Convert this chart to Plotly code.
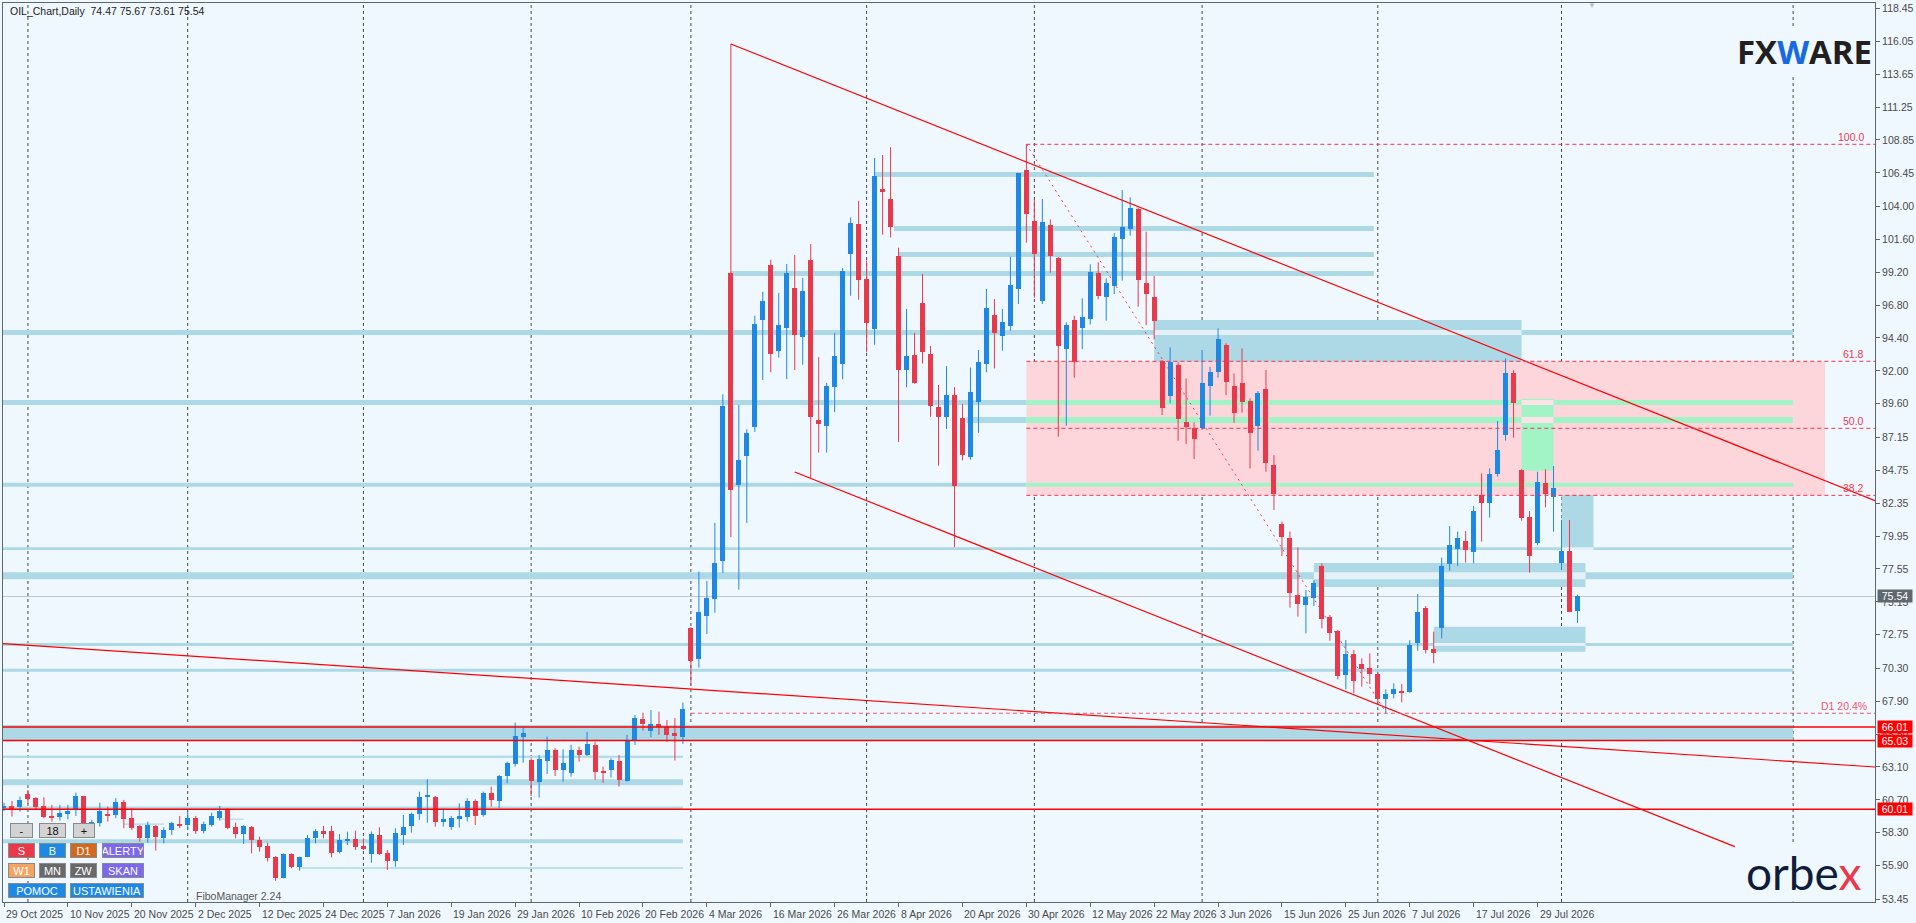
import plotly.graph_objects as go

# Dane świec (kolejne sesje dzienne, od 29 Oct 2025)
open_prices = [
    60.10, 60.26, 60.16, 61.13, 60.87, 60.26, 59.53, 59.48, 59.68, 59.97,
    60.99, 58.85, 58.99, 59.68, 59.60, 60.55, 59.36, 58.80, 57.90, 58.80,
    57.90, 58.51, 58.94, 58.87, 59.41, 58.46, 58.87, 59.41, 60.02, 58.70,
    58.21, 58.75, 57.78, 57.34, 56.56, 55.03, 56.76, 55.83, 56.56, 57.90,
    58.43, 58.46, 56.92, 57.73, 57.85, 57.33, 56.76, 58.14, 56.81, 56.27,
    58.14, 58.80, 59.68, 60.94, 60.92, 59.12, 58.75, 59.31, 59.48, 60.62,
    59.60, 61.18, 60.62, 62.45, 63.32, 65.32, 63.62, 62.04, 63.57, 64.34,
    62.89, 62.69, 64.34, 63.98, 64.71, 62.81, 62.89, 63.54, 62.08, 65.00,
    66.61, 65.76, 66.24, 66.00, 65.61, 65.32, 73.24, 70.98, 74.13, 75.39,
    78.12, 99.15, 83.70, 85.81, 87.89, 95.71, 99.72, 93.47, 95.16, 98.05,
    94.46, 100.09, 88.41, 88.00, 90.81, 92.53, 100.55, 102.72, 98.70, 95.08,
    105.27, 104.54, 100.37, 92.09, 93.16, 96.96, 93.23, 89.35, 88.65, 90.24,
    88.57, 85.73, 89.72, 92.50, 96.07, 94.56, 95.29, 97.99, 106.65, 102.93,
    97.12, 102.64, 100.26, 93.59, 95.71, 95.15, 95.76, 99.11, 97.41, 98.21,
    101.64, 102.35, 103.83, 98.38, 97.36, 92.74, 90.19, 92.43, 88.24, 87.80,
    87.80, 90.92, 91.89, 93.88, 90.89, 91.09, 89.80, 87.98, 90.68, 85.13,
    80.83, 79.78, 75.62, 74.89, 75.40, 77.76, 74.02, 73.00, 69.83, 71.34,
    70.61, 70.30, 69.88, 68.03, 68.40, 68.64, 68.59, 72.12, 74.72, 71.71,
    73.26, 77.91, 79.00, 79.59, 78.81, 82.94, 82.33, 84.47, 87.32, 91.87,
    84.77, 81.36, 79.46, 83.79, 82.82, 77.96, 78.86, 74.47,
]
high_prices = [
    60.50, 60.62, 60.94, 61.42, 60.90, 60.89, 60.33, 60.33, 60.33, 61.23,
    61.00, 59.25, 60.50, 60.21, 60.82, 60.70, 60.09, 58.87, 59.11, 58.87,
    58.70, 59.11, 59.53, 59.84, 59.53, 59.11, 59.77, 60.26, 60.09, 59.04,
    58.87, 58.80, 58.02, 57.58, 56.60, 56.80, 56.80, 56.56, 58.14, 58.56,
    58.80, 58.80, 58.21, 58.38, 58.46, 57.89, 58.39, 58.70, 57.05, 58.63,
    59.60, 59.77, 61.30, 62.20, 60.99, 60.02, 59.53, 60.45, 60.82, 60.74,
    61.30, 61.67, 62.52, 63.49, 66.34, 66.00, 63.74, 63.98, 65.32, 64.47,
    64.39, 64.71, 64.59, 65.66, 64.95, 63.13, 63.74, 63.98, 65.44, 66.90,
    67.07, 67.26, 67.14, 66.53, 66.68, 67.80, 73.30, 77.35, 76.67, 80.91,
    90.29, 115.85, 89.51, 87.74, 96.02, 97.77, 100.11, 97.69, 99.80, 100.45,
    98.78, 101.26, 93.00, 91.12, 94.77, 99.51, 103.19, 104.41, 100.06, 107.54,
    107.75, 108.32, 100.99, 96.52, 94.77, 99.07, 93.81, 90.97, 92.35, 90.81,
    89.59, 92.24, 93.52, 97.98, 97.24, 96.51, 100.33, 106.43, 108.55, 104.46,
    104.54, 103.05, 100.33, 95.54, 96.02, 97.29, 99.77, 99.92, 98.75, 102.06,
    105.19, 104.66, 103.90, 102.15, 98.92, 92.79, 93.71, 92.67, 91.45, 88.24,
    93.52, 92.30, 95.10, 94.01, 91.82, 93.64, 89.99, 90.53, 92.06, 85.86,
    81.00, 80.27, 79.12, 76.01, 76.74, 77.96, 74.19, 73.09, 72.36, 71.63,
    71.03, 71.39, 69.93, 68.76, 69.20, 69.15, 72.36, 75.72, 74.84, 72.97,
    78.37, 80.68, 80.27, 80.32, 82.14, 84.52, 84.89, 88.34, 92.91, 92.06,
    84.82, 81.77, 84.64, 84.82, 85.06, 81.12, 81.12, 75.67,
]
low_prices = [
    59.90, 59.48, 59.84, 60.40, 59.97, 59.36, 59.11, 59.19, 59.28, 59.53,
    58.80, 58.60, 58.75, 59.11, 59.36, 58.63, 58.51, 57.65, 57.58, 57.00,
    57.53, 58.14, 58.63, 58.51, 58.21, 58.26, 58.75, 59.19, 58.56, 57.90,
    57.48, 56.80, 56.92, 56.20, 54.79, 54.98, 55.71, 55.54, 56.56, 57.53,
    57.90, 56.51, 56.80, 57.41, 57.05, 57.04, 56.12, 56.68, 55.59, 55.83,
    57.41, 58.31, 59.24, 59.04, 58.75, 58.75, 58.51, 58.68, 59.12, 58.87,
    59.48, 60.21, 60.09, 61.91, 63.13, 63.42, 60.99, 60.87, 62.59, 62.45,
    62.03, 62.40, 63.49, 63.91, 62.16, 61.96, 62.33, 61.67, 62.03, 64.71,
    65.76, 65.27, 65.44, 64.95, 63.57, 64.78, 69.08, 70.35, 72.80, 74.36,
    77.26, 79.87, 76.04, 80.91, 87.55, 91.33, 91.90, 92.97, 91.41, 92.06,
    92.45, 84.17, 86.04, 86.04, 88.99, 91.38, 97.48, 97.19, 93.36, 93.91,
    101.94, 101.73, 86.82, 90.81, 91.07, 92.53, 88.65, 85.08, 87.76, 79.14,
    85.47, 85.52, 87.48, 91.90, 92.18, 93.47, 94.93, 96.88, 101.35, 97.34,
    96.88, 99.16, 87.20, 88.00, 91.50, 93.59, 95.39, 97.22, 95.66, 97.61,
    98.58, 101.86, 96.68, 95.34, 94.30, 88.78, 89.63, 86.90, 86.66, 85.57,
    87.68, 88.73, 91.50, 90.24, 88.22, 88.95, 84.89, 86.18, 84.64, 81.85,
    78.49, 74.72, 74.07, 72.85, 74.84, 73.21, 72.31, 69.49, 68.76, 68.47,
    68.96, 69.15, 67.74, 67.01, 68.11, 67.82, 68.52, 71.58, 71.39, 70.66,
    72.49, 77.42, 77.76, 78.01, 77.96, 79.54, 81.29, 84.28, 86.91, 87.13,
    81.07, 77.28, 79.29, 82.04, 80.27, 77.47, 74.43, 73.61,
]
close_prices = [
    60.25, 60.06, 60.70, 60.79, 60.21, 59.48, 59.41, 59.77, 59.92, 60.99,
    59.00, 59.10, 59.92, 59.58, 60.57, 59.33, 58.68, 57.90, 58.87, 58.02,
    58.51, 58.99, 58.82, 59.36, 58.46, 58.94, 59.53, 59.92, 58.68, 58.21,
    58.80, 57.78, 57.29, 56.49, 55.03, 56.76, 55.83, 56.51, 57.90, 58.46,
    58.21, 56.85, 57.78, 57.88, 57.29, 57.14, 58.22, 56.76, 56.27, 58.31,
    58.70, 59.68, 60.89, 61.04, 59.12, 59.31, 59.38, 59.53, 60.62, 59.55,
    61.18, 60.70, 62.45, 63.37, 65.37, 65.56, 62.11, 63.69, 64.34, 62.89,
    63.37, 64.34, 63.98, 64.78, 62.76, 62.69, 63.62, 62.16, 65.00, 66.70,
    66.24, 66.24, 66.00, 65.44, 65.37, 67.34, 70.86, 74.43, 75.45, 78.00,
    89.43, 83.31, 85.47, 87.48, 95.42, 97.09, 93.26, 95.34, 99.15, 94.64,
    97.82, 88.65, 88.15, 90.89, 93.08, 99.28, 102.80, 98.60, 95.53, 106.21,
    105.06, 102.51, 92.09, 93.08, 91.12, 93.39, 89.46, 88.65, 90.24, 83.57,
    85.89, 90.45, 92.68, 96.59, 94.78, 95.54, 98.26, 106.43, 103.44, 100.55,
    102.86, 100.38, 93.84, 95.34, 92.62, 95.90, 99.19, 97.48, 98.38, 101.76,
    102.49, 103.88, 98.63, 97.61, 95.64, 89.31, 92.67, 88.51, 87.93, 87.05,
    91.09, 91.89, 94.30, 91.21, 88.90, 89.75, 87.44, 90.41, 85.30, 82.99,
    79.85, 75.82, 74.97, 75.48, 76.50, 73.92, 72.90, 69.76, 71.34, 69.40,
    70.27, 69.88, 68.03, 68.40, 68.76, 68.52, 72.00, 74.41, 71.63, 71.44,
    77.76, 79.29, 79.78, 78.93, 81.77, 82.38, 84.47, 86.22, 91.87, 89.68,
    81.29, 78.52, 83.89, 82.99, 83.43, 78.88, 74.43, 75.54,
]

date_labels = [
    "29 Oct 2025", "10 Nov 2025", "20 Nov 2025", "2 Dec 2025", "12 Dec 2025",
    "24 Dec 2025", "7 Jan 2026", "19 Jan 2026", "29 Jan 2026", "10 Feb 2026",
    "20 Feb 2026", "4 Mar 2026", "16 Mar 2026", "26 Mar 2026", "8 Apr 2026",
    "20 Apr 2026", "30 Apr 2026", "12 May 2026", "22 May 2026", "3 Jun 2026",
    "15 Jun 2026", "25 Jun 2026", "7 Jul 2026", "17 Jul 2026", "29 Jul 2026",
]
price_ticks = [118.45, 116.05, 113.65, 111.25, 108.85, 106.45, 104.00, 101.60,
               99.20, 96.80, 94.40, 92.00, 89.60, 87.15, 84.75, 82.35, 79.95,
               77.55, 75.15, 72.75, 70.30, 67.90, 65.50, 63.10, 60.70, 58.30,
               55.90, 53.45]

# pierwsza sesja każdego miesiąca (separatory okresów) + linia końca obiektów
month_start_bars = [3, 23, 45, 66, 86, 108, 129, 150, 172, 195]
object_end_bar = 224

# strefy (bar od, bar do, cena dół, cena góra)
blue_zones = [
    (109, 171.5, 106.14, 106.51), (111.4, 171.5, 102.21, 102.57),
    (112, 171.5, 100.30, 100.67), (91, 171.5, 98.92, 99.29),
    (-1, 224, 94.62, 94.98), (-1, 128, 89.51, 89.87), (120.5, 128, 88.19, 88.63),
    (-1, 128, 83.55, 83.84), (-1, 224, 78.93, 79.13), (-1, 224, 76.80, 77.31),
    (-1, 224, 71.93, 72.15), (-1, 224, 70.04, 70.26), (-1, 224, 64.99, 66.16),
    (-1, 85, 63.77, 63.92), (-1, 85, 61.77, 62.20), (-1, 85, 59.97, 60.21),
    (-1, 85, 57.54, 57.83), (37, 85, 55.67, 55.78), (15, 20, 58.88, 58.97),
    (27, 30, 59.25, 59.33),
]
green_zones = [(128, 224, 89.51, 89.87), (128, 224, 88.19, 88.63), (128, 224, 83.55, 83.84)]
# prostokąty z "wyciętym" pasem w miejscu przecięcia z linią
blue_boxes = [
    (144, 190, 92.66, 95.72, 94.62, 94.98),
    (164, 198, 76.23, 77.98, 76.80, 77.31),
    (179, 198, 71.51, 73.33, 71.93, 72.15),
    (195, 199, 78.94, 82.95, 78.93, 79.13),
]
green_box = (190, 194, 84.71, 89.96)

fib_start_bar = 128
fib_high = 108.53
fib_low = 67.09
fib_ratios = [1.0, 0.618, 0.5, 0.382]
fib_texts = ["100.0", "61.8", "50.0", "38.2"]
d1_level = 67.02
d1_start_bar = 86

red_levels = [66.01, 65.03, 60.01]
last_price = 75.54

trendlines = [
    ((91, 115.85), (234.25, 82.53)),
    ((99, 84.62), (216.7, 57.29)),
    ((-0.125, 72.1), (234.25, 63.10)),
]
fib_diag = ((128, 108.53), (173, 67.09))

BG = "#F0F8FF"
BULL = "#1E88E5"
BEAR = "#E9394B"
LIGHTBLUE = "#ADD8E6"
MINT = "#A2F3C6"
PINK = "#FDD6DC"
RED = "#FF0000"
FIBRED = "#F0364E"

X0, X1 = -0.125, 234.25
Y0, Y1 = 53.25, 118.84

# pozycje w pikselach -> paper
def px(x):
    return (x - 2) / 1875


def py(y):
    return (902 - y) / 899


bars = list(range(len(open_prices)))
up = [i for i in bars if close_prices[i] >= open_prices[i]]
dn = [i for i in bars if close_prices[i] < open_prices[i]]

fig = go.Figure()


def wick_trace(idx, color):
    xs, ys = [], []
    for i in idx:
        xs += [i, i, None]
        ys += [low_prices[i], high_prices[i], None]
    return go.Scatter(x=xs, y=ys, mode="lines", line=dict(color=color, width=1),
                      hoverinfo="skip", showlegend=False)


def body_trace(idx, color):
    base = [min(open_prices[i], close_prices[i]) for i in idx]
    h = [max(abs(close_prices[i] - open_prices[i]), 0.08) for i in idx]
    return go.Bar(x=idx, y=h, base=base, width=0.625, marker=dict(color=color, line=dict(width=0)),
                  showlegend=False, hoverinfo="skip")


fig.add_trace(wick_trace(up, BULL))
fig.add_trace(wick_trace(dn, BEAR))
fig.add_trace(body_trace(up, BULL))
fig.add_trace(body_trace(dn, BEAR))

# linie trendu
for (a, b) in trendlines:
    fig.add_trace(go.Scatter(x=[a[0], b[0]], y=[a[1], b[1]], mode="lines",
                             line=dict(color=RED, width=1.2), hoverinfo="skip", showlegend=False))
fig.add_trace(go.Scatter(x=[fib_diag[0][0], fib_diag[1][0]], y=[fib_diag[0][1], fib_diag[1][1]],
                         mode="lines", line=dict(color=FIBRED, width=1, dash="2px,4px"),
                         hoverinfo="skip", showlegend=False))

shapes = []


def rect(x0, x1, y0, y1, color):
    shapes.append(dict(type="rect", xref="x", yref="y", x0=x0, x1=x1, y0=y0, y1=y1,
                       fillcolor=color, line=dict(width=0), layer="below"))


fib_levels = [fib_low + r * (fib_high - fib_low) for r in fib_ratios]
rect(fib_start_bar, 228, fib_levels[3], fib_levels[1], PINK)
for z in blue_zones:
    rect(z[0], z[1], z[2], z[3], LIGHTBLUE)
for z in green_zones:
    rect(z[0], z[1], z[2], z[3], MINT)
for b in blue_boxes:
    rect(b[0], b[1], b[2], b[3], LIGHTBLUE)
    rect(b[0], b[1], b[4], b[5], "#E4F2F7")
rect(green_box[0], green_box[1], green_box[2], green_box[3], MINT)
rect(green_box[0], green_box[1], green_zones[0][2], green_zones[0][3], "#FBE3E6")
rect(green_box[0], green_box[1], green_zones[1][2], green_zones[1][3], "#FBE3E6")

# separatory miesięcy
for m in month_start_bars + [object_end_bar]:
    shapes.append(dict(type="line", xref="x", yref="paper", x0=m, x1=m, y0=0, y1=1,
                       line=dict(color="#3E4852", width=1, dash="3px,3px"), layer="below"))

# poziomy Fibo
for lv in fib_levels:
    shapes.append(dict(type="line", xref="x", yref="y", x0=fib_start_bar, x1=X1, y0=lv, y1=lv,
                       line=dict(color=FIBRED, width=1, dash="4px,3px")))
shapes.append(dict(type="line", xref="x", yref="y", x0=d1_start_bar, x1=X1, y0=d1_level, y1=d1_level,
                   line=dict(color="#F0566A", width=1, dash="4px,3px")))

for lv in red_levels:
    shapes.append(dict(type="line", xref="x", yref="y", x0=X0, x1=X1, y0=lv, y1=lv,
                       line=dict(color=RED, width=1.5)))
shapes.append(dict(type="line", xref="x", yref="y", x0=X0, x1=X1, y0=last_price, y1=last_price,
                   line=dict(color="#C4C4C4", width=1), layer="below"))

annotations = []
AX_FONT = dict(family="Liberation Sans, Arial, sans-serif", size=10.5, color="#4A4A4A")

for k, lab in enumerate(date_labels):
    annotations.append(dict(x=8 * k, y=0, xref="x", yref="paper", text=lab, showarrow=False,
                            xanchor="left", yanchor="top", yshift=-4, xshift=0, font=AX_FONT))

for lv, t in zip(fib_levels, fib_texts):
    annotations.append(dict(x=233.1, y=lv, xref="x", yref="y", text=t, showarrow=False,
                            xanchor="right", yanchor="bottom", yshift=-1,
                            font=dict(family="Liberation Sans, Arial", size=10.5, color=FIBRED)))
annotations.append(dict(x=233.5, y=d1_level, xref="x", yref="y", text="D1 20.4%", showarrow=False,
                        xanchor="right", yanchor="bottom", yshift=-1,
                        font=dict(family="Liberation Sans, Arial", size=10.5, color="#F0566A")))

# etykiety cen na osi
for lv in red_levels:
    annotations.append(dict(x=1, y=lv, xref="paper", yref="y", text=f"{lv:.2f}", showarrow=False,
                            xanchor="left", yanchor="middle", xshift=2, bgcolor=RED, borderpad=0,
                            width=34, height=12,
                            font=dict(family="Liberation Sans, Arial", size=10.5, color="white")))
annotations.append(dict(x=1, y=last_price, xref="paper", yref="y", text=f"{last_price:.2f}",
                        showarrow=False, xanchor="left", yanchor="middle", xshift=2, bgcolor="#5F6870",
                        borderpad=0, width=34, height=12,
                        font=dict(family="Liberation Sans, Arial", size=10.5, color="white")))

annotations.append(dict(x=px(7), y=py(3), xref="paper", yref="paper", showarrow=False,
                        text="OIL_Chart,Daily  74.47 75.67 73.61 75.54", xanchor="left", yanchor="top",
                        font=dict(family="Liberation Sans, Arial", size=10.5, color="#222222")))
annotations.append(dict(x=px(193), y=py(896), xref="paper", yref="paper", showarrow=False,
                        text="FiboManager 2.24", xanchor="left", yanchor="middle",
                        font=dict(family="Liberation Sans, Arial", size=10.5, color="#555555")))

# logotypy
annotations.append(dict(x=px(1806), y=py(51), xref="paper", yref="paper", showarrow=False,
                        xanchor="center", yanchor="middle",
                        text="<b>FX<span style='color:#1668E3'>W</span>ARE</b>", bgcolor=BG,
                        font=dict(family="Open Sans, Inter, sans-serif", size=33, color="#231F20")))
annotations.append(dict(x=px(1806), y=py(872), xref="paper", yref="paper", showarrow=False,
                        xanchor="center", yanchor="middle",
                        text="orbe<span style='color:#E9394B'>x</span>", bgcolor=BG,
                        font=dict(family="Lato, Noto Sans, sans-serif", size=46, color="#0F1D3A")))
annotations.append(dict(x=px(1594), y=py(5), xref="paper", yref="paper", showarrow=False,
                        xanchor="center", yanchor="middle",
                        text="▼", font=dict(size=8, color="#BDBDBD")))

# przyciski panelu
buttons = [
    ("-", 20.5, 830.5, 23, "#D3D3D3", "#111111"), ("18", 51.5, 830.5, 27, "#D3D3D3", "#111111"),
    ("+", 83, 830.5, 22, "#D3D3D3", "#111111"),
    ("S", 20.5, 850.5, 27, "#E9394B", "white"), ("B", 51.5, 850.5, 27, "#1E88E5", "white"),
    ("D1", 82.5, 850.5, 27, "#D2691E", "white"), ("ALERTY", 122, 850.5, 42, "#7B68EE", "white"),
    ("W1", 20.5, 870.5, 27, "#F4A460", "white"), ("MN", 51.5, 870.5, 27, "#696969", "white"),
    ("ZW", 82.5, 870.5, 27, "#696969", "white"), ("SKAN", 122, 870.5, 42, "#7B68EE", "white"),
    ("POMOC", 36, 890, 58, "#1E88E5", "white"), ("USTAWIENIA", 106, 890, 74, "#1E88E5", "white"),
]
for t, cx, cy, w, bg, fg in buttons:
    annotations.append(dict(x=px(cx), y=py(cy), xref="paper", yref="paper", showarrow=False,
                            xanchor="center", yanchor="middle",
                            text=t, width=w - 2, height=13, bgcolor=bg, bordercolor="#8A8A8A",
                            borderwidth=1, borderpad=0,
                            font=dict(family="Liberation Sans, Arial", size=11, color=fg)))

fig.update_layout(
    width=1916, height=923,
    margin=dict(l=2, r=39, t=3, b=21),
    paper_bgcolor=BG, plot_bgcolor=BG,
    barmode="overlay", bargap=0,
    showlegend=False,
    shapes=shapes, annotations=annotations,
    xaxis=dict(range=[X0, X1], showgrid=False, zeroline=False, showline=True, mirror=True,
               linecolor="#5E666E", linewidth=1, ticks="outside", ticklen=4, tickcolor="#5E666E",
               tickvals=[8 * k for k in range(len(date_labels))], showticklabels=False,
               fixedrange=True),
    yaxis=dict(range=[Y0, Y1], side="right", showgrid=False, zeroline=False, showline=True,
               mirror=True, linecolor="#5E666E", linewidth=1, ticks="outside", ticklen=4,
               tickcolor="#5E666E", tickvals=price_ticks, ticktext=[f"{v:.2f}" for v in price_ticks],
               tickfont=AX_FONT, fixedrange=True),
    hovermode=False,
)

fig.write_html("out.html", config={"displayModeBar": False},
               post_script="document.body.style.margin='0';document.body.style.overflow='hidden';")
